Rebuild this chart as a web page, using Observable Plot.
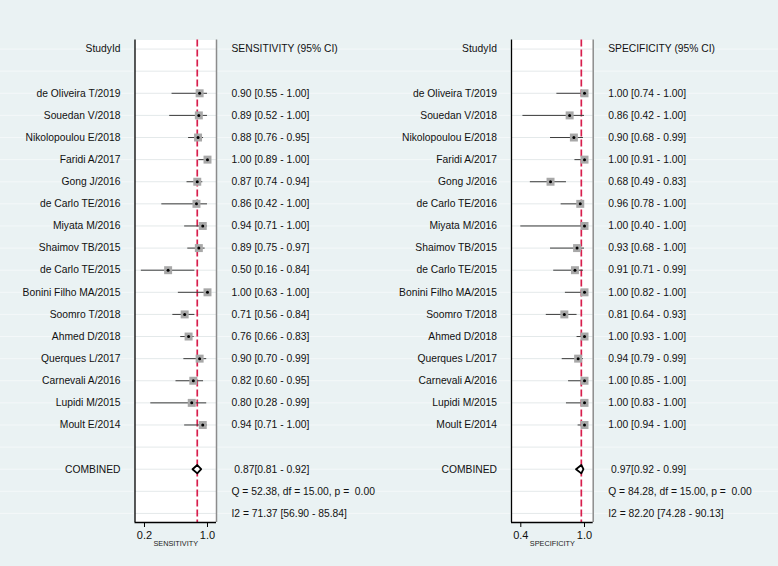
<!DOCTYPE html>
<html>
<head>
<meta charset="utf-8">
<script src="https://cdn.jsdelivr.net/npm/d3@7"></script>
<script src="https://cdn.jsdelivr.net/npm/@observablehq/plot@0.6"></script>
<style>
  html, body { margin: 0; padding: 0; background: #eaf2f3; }
  #wrap { position: relative; width: 778px; height: 566px; background: #eaf2f3; overflow: hidden; }
  #wrap svg { position: absolute; top: 0; }
  #wrap svg text { white-space: pre; }
</style>
</head>
<body>
<div id="wrap"></div>
<script>
// ---- data ----
const studies = ["de Oliveira T/2019","Souedan V/2018","Nikolopoulou E/2018","Faridi A/2017","Gong J/2016","de Carlo TE/2016","Miyata M/2016","Shaimov TB/2015","de Carlo TE/2015","Bonini Filho MA/2015","Soomro T/2018","Ahmed D/2018","Querques L/2017","Carnevali A/2016","Lupidi M/2015","Moult E/2014"];
const sens   = [0.90,0.89,0.88,1.00,0.87,0.86,0.94,0.89,0.50,1.00,0.71,0.76,0.90,0.82,0.80,0.94];
const sensLo = [0.55,0.52,0.76,0.89,0.74,0.42,0.71,0.75,0.16,0.63,0.56,0.66,0.70,0.60,0.28,0.71];
const sensHi = [1.00,1.00,0.95,1.00,0.94,1.00,1.00,0.97,0.84,1.00,0.84,0.83,0.99,0.95,0.99,1.00];
const spec   = [1.00,0.86,0.90,1.00,0.68,0.96,1.00,0.93,0.91,1.00,0.81,1.00,0.94,1.00,1.00,1.00];
const specLo = [0.74,0.42,0.68,0.91,0.49,0.78,0.40,0.68,0.71,0.82,0.64,0.93,0.79,0.85,0.83,0.94];
const specHi = [1.00,1.00,0.99,1.00,0.83,1.00,1.00,1.00,0.99,1.00,0.93,1.00,0.99,1.00,1.00,1.00];
const sensPooled = [0.87, 0.81, 0.92];
const specPooled = [0.97, 0.92, 0.99];
const sensQ = [52.38, 15.00, 0.00];
const specQ = [84.28, 15.00, 0.00];
const sensI2 = [71.37, 56.90, 85.84];
const specI2 = [82.20, 74.28, 90.13];
const sensTicks = [0.2, 1.0];
const specTicks = [0.4, 1.0];
const headerLabel = "StudyId";
const combinedLabel = "COMBINED";

// ---- layout ----
const W = 389, H = 566;
const mTop = 39.5, mBottom = 44;
const yDomain = [-0.41, 21.41];
const HEADER_ROW = 0, FIRST_STUDY_ROW = 2, COMBINED_ROW = 19, Q_ROW = 20, I2_ROW = 21;
const FONT = "'Liberation Sans', Arial, Helvetica, sans-serif";
const FS = 10.3;
const f2 = v => v.toFixed(2);

function panel({left, marginLeft, marginRight, xDomain, ticks, axisLabel, header, est, lo, hi, pooled, Q, I2}) {
  const rows = d3.range(HEADER_ROW, I2_ROW + 1);
  const data = studies.map((s, i) => ({label: s, row: FIRST_STUDY_ROW + i, est: est[i], lo: lo[i], hi: hi[i]}));
  const fw = W - marginLeft - marginRight;
  const pxToX = px => xDomain[0] + (px - marginLeft) / fw * (xDomain[1] - xDomain[0]);
  const dh = 0.19;
  const diamond = [
    {x: pooled[1], y: COMBINED_ROW},
    {x: pooled[0], y: COMBINED_ROW - dh},
    {x: pooled[2], y: COMBINED_ROW},
    {x: pooled[0], y: COMBINED_ROW + dh},
    {x: pooled[1], y: COMBINED_ROW}
  ];
  const leftLabels = [{row: HEADER_ROW, text: headerLabel}, ...data.map(d => ({row: d.row, text: d.label})), {row: COMBINED_ROW, text: combinedLabel}];
  const rightTexts = [
    {row: HEADER_ROW, text: header},
    ...data.map(d => ({row: d.row, text: `${f2(d.est)} [${f2(d.lo)} - ${f2(d.hi)}]`})),
    {row: COMBINED_ROW, text: ` ${f2(pooled[0])}[${f2(pooled[1])} - ${f2(pooled[2])}]`},
    {row: Q_ROW, text: `Q = ${f2(Q[0])}, df = ${f2(Q[1])}, p =  ${f2(Q[2])}`},
    {row: I2_ROW, text: `I2 = ${f2(I2[0])} [${f2(I2[1])} - ${f2(I2[2])}]`}
  ];
  const svg = Plot.plot({
    width: W, height: H,
    marginLeft, marginRight, marginTop: mTop, marginBottom: mBottom,
    style: {background: "transparent", fontFamily: FONT, overflow: "visible", color: "#111"},
    x: {domain: xDomain, axis: null},
    y: {domain: yDomain, axis: null, reverse: true},
    marks: [
      Plot.ruleY(rows, {y: d => d, x1: pxToX(0), x2: pxToX(W), stroke: "#f4f8f9", strokeWidth: 1}),
      Plot.frame({fill: "white", stroke: null}),
      Plot.ruleY(rows, {y: d => d, stroke: "#e4e9ea", strokeWidth: 1}),
      Plot.ruleX([pooled[0]], {stroke: "#d81e4d", strokeWidth: 1.7, strokeDasharray: "7,3"}),
      Plot.ruleY(data, {y: "row", x1: "lo", x2: "hi", stroke: "#3c3c3c", strokeWidth: 1}),
      Plot.dot(data, {x: "est", y: "row", symbol: "square", r: 4.5, fill: "#a8a8a8", stroke: null}),
      Plot.dot(data, {x: "est", y: "row", r: 1.5, fill: "black", stroke: null}),
      Plot.line(diamond, {x: "x", y: "y", stroke: "black", strokeWidth: 1.8, fill: "white", curve: "linear"}),
      Plot.ruleX([xDomain[0]], {stroke: "black", strokeWidth: 1.3}),
      Plot.ruleX([xDomain[1]], {stroke: "#8c8c8c", strokeWidth: 1.5}),
      Plot.ruleY([yDomain[1]], {stroke: "black", strokeWidth: 1.3}),
      Plot.axisX({ticks, tickFormat: d => d.toFixed(1), tickSize: 5, fontSize: 11, label: null, anchor: "bottom", stroke: "black", fill: "#111"}),
      Plot.text([axisLabel], {text: d => d, frameAnchor: "bottom", dy: 23.7, fontSize: 7.3, fill: "#222"}),
      Plot.text(leftLabels, {y: "row", text: "text", frameAnchor: "left", textAnchor: "end", dx: -14.5, fontSize: FS, fill: "#111"}),
      Plot.text(rightTexts, {y: "row", text: "text", frameAnchor: "right", textAnchor: "start", dx: 15, fontSize: FS, fill: "#111"})
    ]
  });
  svg.style.left = left + "px";
  return svg;
}

const wrap = document.getElementById("wrap");
wrap.appendChild(panel({
  left: 0, marginLeft: 134.5, marginRight: 173,
  xDomain: [0.0794, 1.1143], ticks: sensTicks, axisLabel: "SENSITIVITY",
  header: "SENSITIVITY (95% CI)", est: sens, lo: sensLo, hi: sensHi,
  pooled: sensPooled, Q: sensQ, I2: sensI2
}));
wrap.appendChild(panel({
  left: 389, marginLeft: 122, marginRight: 185.3,
  xDomain: [0.3124, 1.0819], ticks: specTicks, axisLabel: "SPECIFICITY",
  header: "SPECIFICITY (95% CI)", est: spec, lo: specLo, hi: specHi,
  pooled: specPooled, Q: specQ, I2: specI2
}));
</script>
</body>
</html>
